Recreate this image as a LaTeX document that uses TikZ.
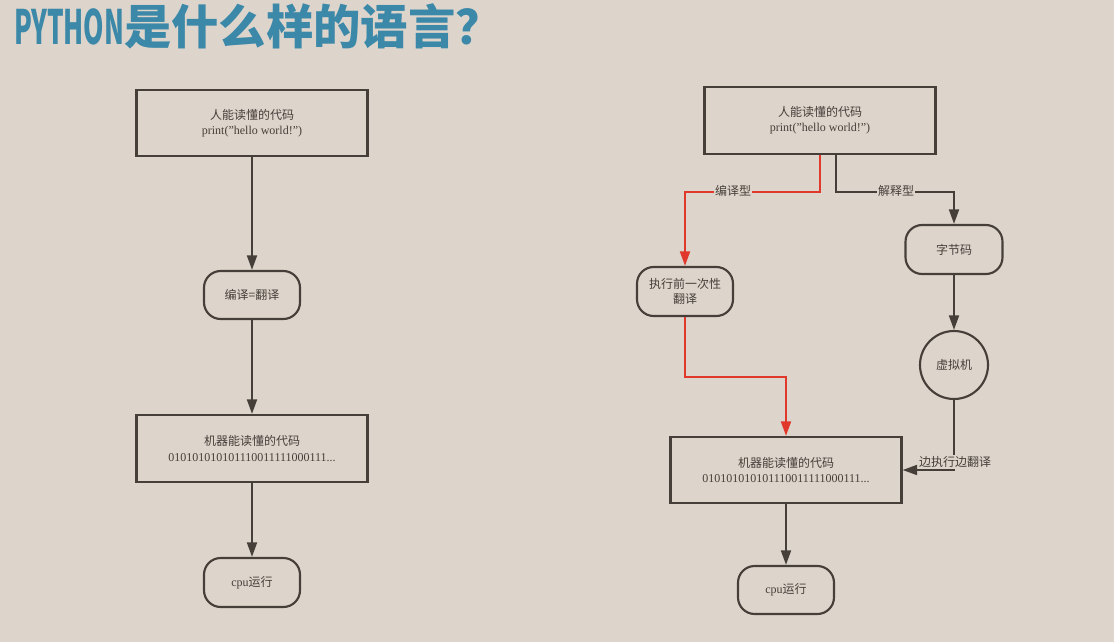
\documentclass[tikz,border=0pt]{standalone}
\usepackage{fontspec}
\setmainfont{Liberation Serif}
\newfontfamily\cjk{Noto Sans CJK SC}
\usetikzlibrary{arrows.meta}
\definecolor{bg}{HTML}{DDD5CC}
\definecolor{ln}{HTML}{463E39}
\definecolor{rd}{HTML}{E0392B}
\definecolor{tt}{HTML}{3B88A8}
\tikzset{
  box/.style={draw=ln, line width=1.6pt, fill=none, align=center, font=\fontsize{9}{11.5}\selectfont, text=ln, inner sep=0pt},
  pill/.style={box, rounded corners=12.5pt},
  circ/.style={box, circle},
  conn/.style={draw=ln, line width=1.6pt, -{Triangle[length=11pt,width=7.5pt]}},
  rconn/.style={draw=rd, line width=1.6pt, -{Triangle[length=11pt,width=7.5pt]}},
  lbl/.style={fill=bg, inner sep=1pt, text=ln, font=\fontsize{9}{11}\selectfont},
}
\begin{document}
\begin{tikzpicture}[x=0.75pt,y=-0.75pt]
\fill[bg] (0,0) rectangle (1114,642);
\useasboundingbox (0,0) rectangle (1114,642);
\node[anchor=base west, text=tt, inner sep=0pt, font=\cjk\bfseries\fontsize{35.5}{38}\selectfont] (title) at (14,45) {\scalebox{0.55}[1]{PYTHON}是什么样的语言？};
% left
\node[box, minimum width=173.25pt, minimum height=49.5pt] (t1) at (252,123) {{\cjk 人能读懂的代码}\\print("hello world!")};
\node[pill, minimum width=72pt, minimum height=36pt] (r1) at (252,295) {\cjk 编译=翻译};
\node[box, minimum width=173.25pt, minimum height=50.25pt] (b1) at (252,448.5) {{\cjk 机器能读懂的代码}\\010101010101110011111000111...};
\node[pill, minimum width=72pt, minimum height=36.75pt] (c1) at (252,582.5) {cpu{\cjk 运行}};
\draw[conn] (t1) -- (r1);
\draw[conn] (r1) -- (b1);
\draw[conn] (b1) -- (c1);
% right
\node[box, minimum width=173.25pt, minimum height=50.25pt] (t2) at (820,120.5) {{\cjk 人能读懂的代码}\\print("hello world!")};
\node[pill, minimum width=72pt, minimum height=36.75pt] (e2) at (685,291.5) {\cjk 执行前一次性\\\cjk 翻译};
\node[pill, minimum width=72.75pt, minimum height=36.75pt] (z2) at (954,249.5) {\cjk 字节码};
\node[circ, minimum size=51pt] (v2) at (954,365) {\cjk 虚拟机};
\node[box, minimum width=173.25pt, minimum height=49.5pt] (b3) at (786,470) {{\cjk 机器能读懂的代码}\\010101010101110011111000111...};
\node[pill, minimum width=72pt, minimum height=36pt] (c2) at (786,590) {cpu{\cjk 运行}};
\draw[rconn] (t2.south) -- ++(0,37) -| (e2.north);
\draw[conn] ([xshift=12pt]t2.south) -- ++(0,37) -| (z2.north);
\draw[conn] (z2) -- (v2);
\draw[conn] (v2.south) |- (b3.east);
\draw[rconn] (e2.south) -- ++(0,60) -| (b3.north);
\draw[conn] (b3) -- (c2);
\node[lbl] (l1) at (733,191) {\cjk 编译型};
\node[lbl] (l2) at (896,191) {\cjk 解释型};
\node[lbl] (l3) at (955,462) {\cjk 边执行边翻译};
\end{tikzpicture}
\end{document}
